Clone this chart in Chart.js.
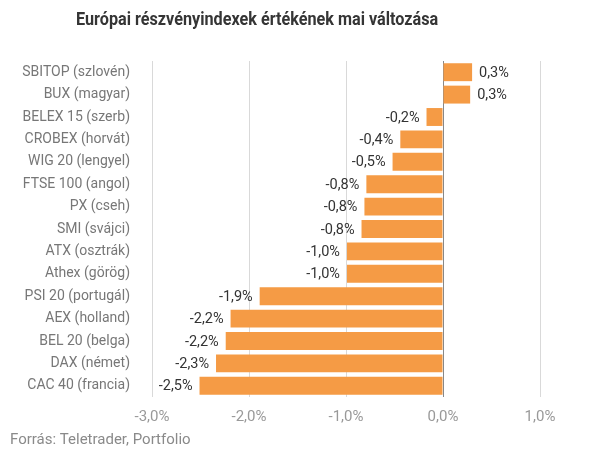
<!DOCTYPE html>
<html>
<head>
<meta charset="utf-8">
<script src="https://cdn.jsdelivr.net/npm/chart.js@4"></script>
<style>
  html, body { margin: 0; padding: 0; background: #fff; }
  #wrap { width: 606px; height: 459px; }
</style>
</head>
<body>
<div id="wrap"><canvas id="chart" width="606" height="459"></canvas></div>
<script>
// Indexek és napi változásuk (%)
const indexNames = [
  'SBITOP (szlovén)', 'BUX (magyar)', 'BELEX 15 (szerb)', 'CROBEX (horvát)',
  'WIG 20 (lengyel)', 'FTSE 100 (angol)', 'PX (cseh)', 'SMI (svájci)',
  'ATX (osztrák)', 'Athex (görög)', 'PSI 20 (portugál)', 'AEX (holland)',
  'BEL 20 (belga)', 'DAX (német)', 'CAC 40 (francia)'
];
const changes = [
  0.30, 0.28, -0.17, -0.44, -0.52, -0.79, -0.81, -0.84,
  -0.99, -0.99, -1.89, -2.19, -2.24, -2.34, -2.51
];
const xTicks = [-3, -2, -1, 0, 1];

const titleText = 'Európai részvényindexek értékének mai változása';
const sourceText = 'Forrás: Teletrader, Portfolio';

const barColor = '#f59b45';
const fmt = v => v.toFixed(1).replace('.', ',') + '%';

// értékcímkék a sávok végére
const valueLabels = {
  id: 'valueLabels',
  afterDatasetsDraw(chart) {
    const ctx = chart.ctx;
    const meta = chart.getDatasetMeta(0);
    ctx.save();
    ctx.font = '14.5px Roboto';
    ctx.fillStyle = '#333';
    ctx.textBaseline = 'middle';
    meta.data.forEach((bar, i) => {
      const v = changes[i];
      if (v >= 0) {
        ctx.textAlign = 'left';
        ctx.fillText(fmt(v), bar.x + 7, bar.y + 1);
      } else {
        ctx.textAlign = 'right';
        ctx.fillText(fmt(v), bar.x - 7, bar.y + 1);
      }
    });
    ctx.restore();
  }
};

// cím és forrás (a cím kissé keskenyített betűvel)
const headerFooter = {
  id: 'headerFooter',
  afterDraw(chart) {
    const ctx = chart.ctx;
    ctx.save();
    ctx.textBaseline = 'middle';
    ctx.fillStyle = '#353535';
    ctx.font = 'bold 18px Roboto';
    ctx.translate(76, 20);
    ctx.scale(0.9, 1);
    ctx.textAlign = 'left';
    ctx.fillText(titleText, 0, 0);
    ctx.restore();

    ctx.save();
    ctx.textBaseline = 'middle';
    ctx.fillStyle = '#8a8a8a';
    ctx.font = '15px Roboto';
    ctx.textAlign = 'left';
    ctx.fillText(sourceText, 10, 440);
    ctx.restore();
  }
};

new Chart(document.getElementById('chart'), {
  type: 'bar',
  data: {
    labels: indexNames,
    datasets: [{
      data: changes,
      backgroundColor: barColor,
      borderWidth: 0,
      categoryPercentage: 0.8,
      barPercentage: 1.0
    }]
  },
  options: {
    indexAxis: 'y',
    responsive: false,
    animation: false,
    layout: { padding: { left: 10, right: 66, top: 61, bottom: 22 } },
    plugins: {
      legend: { display: false },
      tooltip: { enabled: false },
      title: { display: false }
    },
    scales: {
      x: {
        min: -3,
        max: 1,
        afterBuildTicks: scale => { scale.ticks = xTicks.map(v => ({ value: v })); },
        ticks: {
          color: '#999',
          font: { family: 'Roboto', size: 15 },
          padding: 11,
          callback: v => fmt(v)
        },
        grid: {
          color: ctx => (ctx.tick && ctx.tick.value === 0) ? '#888' : '#d9d9d9',
          drawTicks: false
        },
        border: { display: false }
      },
      y: {
        afterFit: scale => { scale.width = 142; },
        ticks: {
          color: '#777',
          font: { family: 'Roboto', size: 14 },
          padding: 14
        },
        grid: { display: false },
        border: { display: false }
      }
    }
  },
  plugins: [valueLabels, headerFooter]
});
</script>
</body>
</html>
